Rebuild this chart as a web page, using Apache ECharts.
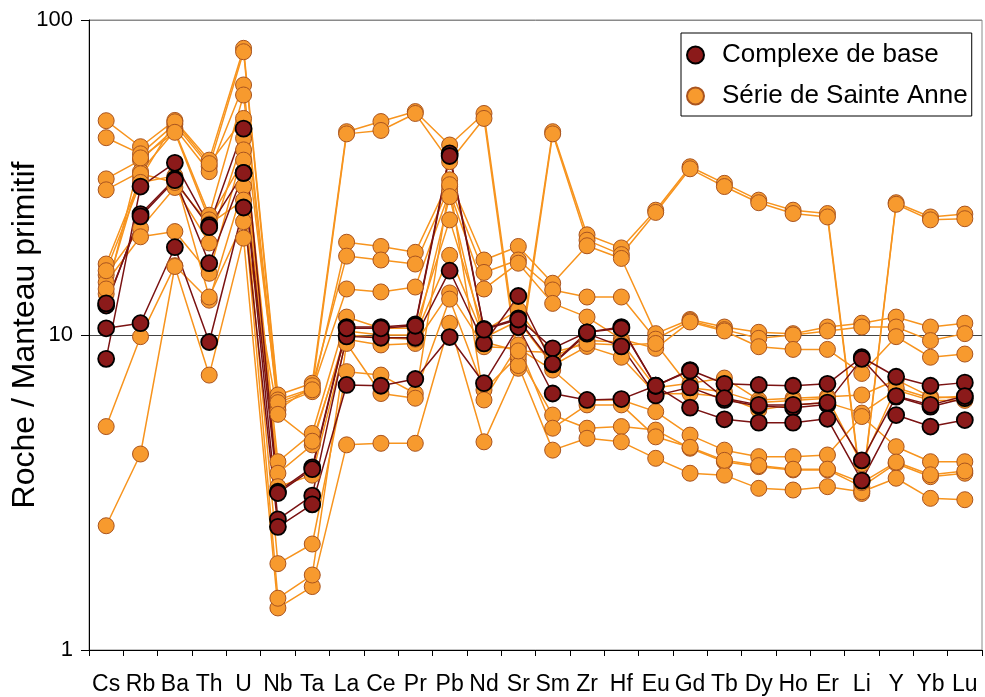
<!DOCTYPE html>
<html>
<head>
<meta charset="utf-8">
<script src="https://cdn.jsdelivr.net/npm/echarts@6/dist/echarts.min.js"></script>
<style>
html,body{margin:0;padding:0;background:#fff;}
#chart{width:985px;height:697px;}
</style>
</head>
<body>
<div id="chart"></div>
<script>
const categories = ["Cs","Rb","Ba","Th","U","Nb","Ta","La","Ce","Pr","Pb","Nd","Sr","Sm","Zr","Hf","Eu","Gd","Tb","Dy","Ho","Er","Li","Y","Yb","Lu"];
const yTickLabels = ["1","10","100"];
const nameBase = "Complexe de base";
const nameAnne = "Série de Sainte Anne";

// Série de Sainte Anne (orange)
const anne1  = [47.9,39.6,48.0,35.9,81.3,6.45,7.03,44.2,47.6,51.2,40.1,50.5,8.3,44.2,20.8,18.9,24.9,34.2,30.3,26.8,24.9,24.3,3.2,26.3,23.7,24.2];
const anne2  = [42.3,37.6,46.7,34.3,79.3,6.22,6.77,43.5,44.6,50.5,35.5,48.7,7.84,43.5,20.0,18.0,24.5,33.7,29.6,26.3,24.3,23.7,3.14,26.0,23.2,23.4];
const anne3  = [31.3,35.9,45.3,33.0,62.2,5.99,6.61,19.7,19.1,18.3,31.1,17.3,19.1,14.6,19.2,17.5,10.1,11.2,10.6,10.2,10.1,10.6,10.9,11.4,10.6,10.9];
const anne4  = [28.9,33.0,44.5,24.0,57.8,5.78,6.9,17.8,17.3,16.8,29.6,15.8,17.3,13.9,13.2,13.2,9.7,11.1,10.4,9.76,10.0,10.3,10.6,10.6,9.6,10.1];
const anne5  = [16.8,31.4,47.5,35.0,48.7,6.1,6.7,14.0,13.7,14.2,28.5,14.0,16.9,12.6,11.4,9.7,9.07,11.0,10.3,9.18,9.0,9.0,7.55,9.88,8.5,8.7];
const anne6  = [15.5,21.8,29.4,19.6,42.1,3.96,4.87,11.4,10.5,10.5,23.2,10.3,12.0,8.5,9.6,9.5,6.8,7.03,7.3,6.22,6.3,6.37,6.45,7.2,6.37,6.3];
const anne7  = [14.7,20.5,21.3,15.7,38.7,3.64,4.48,10.3,10.0,10.0,17.9,9.8,11.1,8.0,9.2,8.5,6.5,6.52,6.37,5.78,6.0,6.1,5.65,6.69,6.2,6.2];
const anne8  = [13.5,36.5,44.0,23.2,35.9,3.30,3.59,9.7,9.3,9.4,13.6,9.18,9.07,7.74,6.22,6.22,5.71,4.81,4.31,4.11,4.11,4.16,5.51,4.42,3.96,3.96];
const anne9  = [5.12,9.88,16.6,12.9,29.6,1.88,2.17,7.65,7.46,6.52,13.0,6.69,8.6,5.57,5.06,5.12,4.99,4.37,3.96,3.82,3.73,3.73,3.3,3.91,3.55,3.64];
const anne10 = [2.48,4.19,16.5,7.46,20.3,1.36,1.59,4.48,4.53,4.53,10.9,4.58,8.0,4.31,4.70,4.58,4.06,3.64,3.59,3.26,3.22,3.30,3.18,3.51,3.03,3.0];
const anne11 = [14.0,32.5,30.5,22.5,26.8,1.46,1.73,9.4,6.52,6.3,30.0,6.22,9.3,5.06,6.0,6.0,4.75,4.4,4.0,3.85,3.75,3.75,3.4,3.95,3.6,3.7];
const anne12 = [16.0,30.5,32.0,13.2,22.9,5.6,4.6,10.0,9.8,9.7,27.5,9.5,8.9,8.8,9.4,9.3,9.4,6.8,6.6,6.1,6.2,6.3,3.9,6.8,6.3,6.4];

// Complexe de base (dark red)
const base1 = [8.4,29.6,35.2,22.3,45.2,3.18,3.8,10.6,10.6,10.8,37.7,10.45,11.3,9.07,10.2,10.6,6.9,7.74,7.0,6.94,6.9,7.0,8.5,7.37,6.9,7.06];
const base2 = [12.4,24.2,31.3,16.9,32.7,2.6,3.09,9.9,9.8,9.8,16.0,9.4,13.3,8.07,10.1,9.2,6.43,6.82,6.22,5.95,5.88,6.02,4.0,6.37,5.92,6.3];
const base3 = [10.5,10.9,19.0,9.5,25.4,2.46,2.9,6.94,6.9,7.25,9.85,7.03,10.6,6.52,6.22,6.26,6.9,5.88,5.4,5.27,5.27,5.42,3.45,5.57,5.12,5.37];
const base4 = [12.6,23.8,31.0,22.0,32.7,3.15,3.75,10.5,10.5,10.7,37.0,10.4,11.2,8.1,10.2,10.5,6.9,7.7,6.3,6.0,6.0,6.1,8.4,6.4,6.0,6.4];

const anneSets = [anne1,anne2,anne3,anne4,anne5,anne6,anne7,anne8,anne9,anne10,anne11,anne12];
const baseSets = [base1,base2,base3,base4];

const series = [];
anneSets.forEach(function(d){
  series.push({
    name: nameAnne, type: 'line', data: d,
    symbol: 'circle', symbolSize: 16,
    lineStyle: {color: '#F7941E', width: 1.5},
    itemStyle: {color: '#F79A2E', borderColor: '#A9541F', borderWidth: 1},
    emphasis: {disabled: true}, animation: false
  });
});
baseSets.forEach(function(d){
  series.push({
    name: nameBase, type: 'line', data: d,
    symbol: 'circle', symbolSize: 16,
    lineStyle: {color: '#7A1212', width: 1.5},
    itemStyle: {color: '#8B1A1A', borderColor: '#000000', borderWidth: 1.8},
    emphasis: {disabled: true}, animation: false
  });
});

const FONT = 'Liberation Sans, Arial, sans-serif';
const chart = echarts.init(document.getElementById('chart'), null, {renderer: 'canvas'});
chart.setOption({
  backgroundColor: '#ffffff',
  animation: false,
  textStyle: {fontFamily: FONT},
  grid: {left: 89, right: 3, top: 20, bottom: 47, containLabel: false, outerBoundsMode: 'none',
         show: true, borderColor: '#8a8a8a', borderWidth: 1},
  legend: {
    data: [nameBase, nameAnne],
    orient: 'vertical', left: 681, top: 33,
    icon: 'circle', itemWidth: 17, itemHeight: 17, itemGap: 15,
    padding: [9, 4, 7, 5],
    borderColor: '#000', borderWidth: 1, backgroundColor: '#fff',
    textStyle: {fontSize: 26, color: '#000', fontFamily: FONT, padding: [0, 0, 0, 13]}
  },
  xAxis: {
    type: 'category', data: categories, boundaryGap: true,
    axisLine: {lineStyle: {color: '#000', width: 1}},
    axisTick: {show: true, length: 6, alignWithLabel: false, lineStyle: {color: '#000'}},
    axisLabel: {fontSize: 23, color: '#000', margin: 23, interval: 0}
  },
  yAxis: {
    type: 'log', logBase: 10, min: 1, max: 100,
    name: 'Roche / Manteau primitif', nameLocation: 'middle', nameGap: 48, nameMoveOverlap: false,
    nameTextStyle: {fontSize: 32, color: '#000'},
    axisLine: {show: true, lineStyle: {color: '#000', width: 1}},
    axisTick: {show: true, length: 8, inside: false, lineStyle: {color: '#000'}},
    axisLabel: {fontSize: 22, color: '#000', margin: 16,
      formatter: function(v){ var i = Math.round(Math.log10(v)); return yTickLabels[i] !== undefined ? yTickLabels[i] : ''; }},
    splitLine: {show: true, lineStyle: {color: ['#000', '#444', '#8a8a8a'], width: 1}}
  },
  series: series
});
</script>
</body>
</html>
